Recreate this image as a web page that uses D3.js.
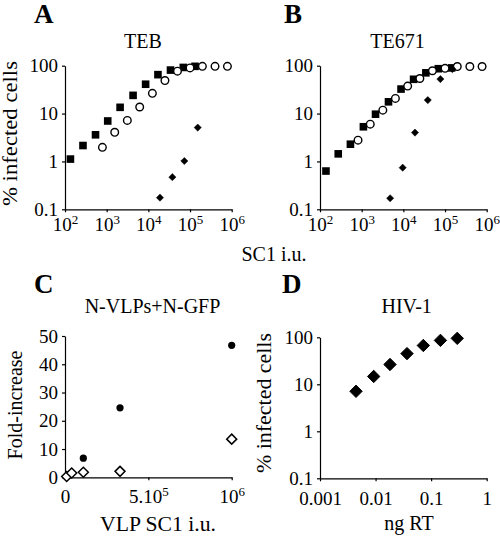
<!DOCTYPE html>
<html><head><meta charset="utf-8">
<script src="https://cdn.jsdelivr.net/npm/d3@7/dist/d3.min.js"></script>
<style>
html,body{margin:0;padding:0;background:#fff;}
svg text, svg tspan{font-family:"Liberation Serif","Times New Roman",serif;fill:#000;}
</style></head>
<body>
<svg id="chart" width="500" height="541"></svg>
<script>
// ---------- DATA ----------
// Panel A (TEB)
const aSqX   = [135, 270, 540, 1060, 2100, 4300, 8600, 17000, 34000, 69000, 132000];
const aSqY   = [1.12, 2.15, 3.6, 7.0, 13.5, 24, 41, 65, 81, 92, 97];
const aCircX = [790, 1560, 3130, 6200, 12500, 25000, 50000, 100000, 198000, 398000, 790000];
const aCircY = [1.97, 4.06, 7.2, 13.7, 26.5, 49, 77, 90, 97, 97, 97];
const aDiaX  = [19000, 37700, 73000, 153000];
const aDiaY  = [0.175, 0.47, 1.02, 5.1];
// Panel B (TE671)
const bSqX   = [139, 274, 537, 1100, 2150, 4400, 8800, 17600, 34700, 69000, 144000];
const bSqY   = [0.63, 1.44, 2.29, 5.3, 9.7, 17.6, 32.5, 52, 71, 86.5, 90];
const bCircX = [818, 1607, 3220, 6450, 12700, 24900, 49900, 100000, 197000, 394000, 775000];
const bCircY = [2.78, 6.0, 11.8, 20.7, 37.5, 54, 78.5, 88, 96, 96, 96];
const bDiaX  = [4820, 9640, 19000, 38600, 77400, 150000];
const bDiaY  = [0.17, 0.74, 4.0, 19.1, 52.5, 85];
// Panel C (N-VLPs+N-GFP)
const cCircX = [110000, 330000, 1000000];
const cCircY = [6.75, 24.6, 46.7];
const cDiaX  = [10000, 40000, 110000, 330000, 1000000];
const cDiaY  = [0.3, 1.5, 1.8, 2.1, 13.5];
// Panel D (HIV-1)
const dX = [0.00445, 0.00925, 0.0182, 0.0368, 0.0724, 0.147, 0.295];
const dY = [7.1, 14.7, 26.4, 45, 67, 86, 95];
// Ticks
const abXTicks = [1e2, 1e3, 1e4, 1e5, 1e6];
const abXExp   = ["2", "3", "4", "5", "6"];
const logYTicks = [0.1, 1, 10, 100];
const logYLabels = ["0.1", "1", "10", "100"];
const cXTicks = [0, 5e5, 1e6];
const cXBase  = ["0", "5.10", "10"];
const cXSup   = ["", "5", "6"];
const cYTicks = [0, 10, 20, 30, 40, 50];
const dXTicks = [0.001, 0.01, 0.1, 1];
const dXLabels = ["0.001", "0.01", "0.1", "1"];
const titles = ["TEB", "TE671", "N-VLPs+N-GFP", "HIV-1"];
const letters = ["A", "B", "C", "D"];

// ---------- DRAW ----------
const FONT = '"Liberation Serif","Times New Roman",serif';
const svg = d3.select("#chart");
svg.append("rect").attr("width", 500).attr("height", 541).attr("fill", "#fff");

const tickFont = 19;

function styleAxis(g) {
  g.attr("font-family", FONT).attr("font-size", tickFont);
  g.selectAll("path.domain").attr("stroke", "#000").attr("stroke-width", 1.2);
  g.selectAll(".tick line").attr("stroke", "#000").attr("stroke-width", 1.2);
  g.selectAll(".tick text").style("font-family", FONT).style("font-size", tickFont + "px");
}

function leftAxis(scale, x, ticks, labels) {
  const g = svg.append("g").attr("transform", `translate(${x},0)`)
    .call(d3.axisLeft(scale).tickValues(ticks)
      .tickFormat((d, i) => labels[i]).tickSize(3).tickPadding(4).tickSizeOuter(0));
  styleAxis(g);
  return g;
}

function bottomAxis(scale, y, ticks, baseLabels, supLabels, baseline) {
  const g = svg.append("g").attr("transform", `translate(0,${y})`)
    .call(d3.axisBottom(scale).tickValues(ticks).tickFormat(() => "")
      .tickSize(3).tickSizeOuter(0));
  styleAxis(g);
  g.selectAll(".tick text").each(function (d, i) {
    const t = d3.select(this).attr("dy", null).attr("y", baseline - y)
      .attr("text-anchor", "middle");
    t.append("tspan").text(baseLabels[i]);
    if (supLabels && supLabels[i]) {
      t.append("tspan").attr("dy", -7).style("font-size", "13px").text(supLabels[i]);
    }
  });
  return g;
}

function diamondPath(s) { return `M0,${-s}L${s},0L0,${s}L${-s},0Z`; }

function text(x, y, str, size, opts = {}) {
  const t = svg.append("text").attr("x", x).attr("y", y)
    .attr("text-anchor", opts.anchor || "middle")
    .style("font-family", FONT)
    .style("font-size", size + "px").text(str);
  if (opts.bold) t.style("font-weight", "bold");
  if (opts.len) t.attr("textLength", opts.len).attr("lengthAdjust", "spacingAndGlyphs");
  if (opts.rotate) t.attr("x", 0).attr("y", 0)
    .attr("transform", `translate(${x},${y}) rotate(-90)`);
  return t;
}

// Scales
const xA = d3.scaleLog().domain([1e2, 1e6]).range([65, 231.7]);
const xB = d3.scaleLog().domain([1e2, 1e6]).range([320, 486.7]);
const yAB = d3.scaleLog().domain([0.1, 100]).range([209.3, 65.7]);
const xC = d3.scaleLinear().domain([0, 1e6]).range([65, 231.7]);
const yC = d3.scaleLinear().domain([0, 50]).range([477.3, 336]);
const xD = d3.scaleLog().domain([0.001, 1]).range([320, 486.7]);
const yD = d3.scaleLog().domain([0.1, 100]).range([478.3, 337.3]);

// Axes A, B
leftAxis(yAB, 65, logYTicks, logYLabels);
bottomAxis(xA, 209.3, abXTicks, abXTicks.map(() => "10"), abXExp, 231);
leftAxis(yAB, 320, logYTicks, logYLabels);
bottomAxis(xB, 209.3, abXTicks, abXTicks.map(() => "10"), abXExp, 231);
// Axes C, D
leftAxis(yC, 65, cYTicks, cYTicks.map(String));
bottomAxis(xC, 477.3, cXTicks, cXBase, cXSup, 503.5);
leftAxis(yD, 320, logYTicks, logYLabels);
bottomAxis(xD, 478.3, dXTicks, dXLabels, null, 505);

// Markers
function squares(xs, ys, xS, yS) {
  svg.append("g").selectAll("rect").data(xs).join("rect")
    .attr("x", (d) => xS(d) - 3.8).attr("y", (d, i) => yS(ys[i]) - 3.8)
    .attr("width", 7.6).attr("height", 7.6).attr("fill", "#000");
}
function circles(xs, ys, xS, yS, filled, r) {
  svg.append("g").selectAll("circle").data(xs).join("circle")
    .attr("cx", (d) => xS(d)).attr("cy", (d, i) => yS(ys[i])).attr("r", r)
    .attr("fill", filled ? "#000" : "#fff").attr("stroke", "#000")
    .attr("stroke-width", filled ? 0 : 1.4);
}
function diamonds(xs, ys, xS, yS, s, filled, sw) {
  svg.append("g").selectAll("path").data(xs).join("path")
    .attr("transform", (d, i) => `translate(${xS(d)},${yS(ys[i])})`)
    .attr("d", diamondPath(s))
    .attr("fill", filled ? "#000" : "#fff").attr("stroke", "#000")
    .attr("stroke-width", sw);
}

squares(aSqX, aSqY, xA, yAB);
circles(aCircX, aCircY, xA, yAB, false, 3.8);
diamonds(aDiaX, aDiaY, xA, yAB, 3.6, true, 0.5);

squares(bSqX, bSqY, xB, yAB);
circles(bCircX, bCircY, xB, yAB, false, 3.8);
diamonds(bDiaX, bDiaY, xB, yAB, 3.6, true, 0.5);

circles(cCircX, cCircY, xC, yC, true, 3.6);
diamonds(cDiaX, cDiaY, xC, yC, 5, false, 1.5);

diamonds(dX, dY, xD, yD, 6.2, true, 1);

// Titles & letters
text(143, 48, titles[0], 20);
text(397.5, 48, titles[1], 20);
text(152.5, 313, titles[2], 20);
text(406.7, 313, titles[3], 20);
text(34, 23, letters[0], 27, { anchor: "start", bold: true });
text(284, 23, letters[1], 27, { anchor: "start", bold: true });
text(34, 293, letters[2], 27, { anchor: "start", bold: true });
text(282, 293, letters[3], 27, { anchor: "start", bold: true });

// Axis titles
text(17, 133.5, "% infected cells", 20, { rotate: true, len: 145 });
text(274, 261, "SC1 i.u.", 20);
text(22, 405, "Fold-increase", 20, { rotate: true });
text(158, 531, "VLP SC1 i.u.", 20, { len: 116 });
text(271, 403, "% infected cells", 20, { rotate: true, len: 140 });
text(409, 530, "ng RT", 20);
</script>
</body></html>
